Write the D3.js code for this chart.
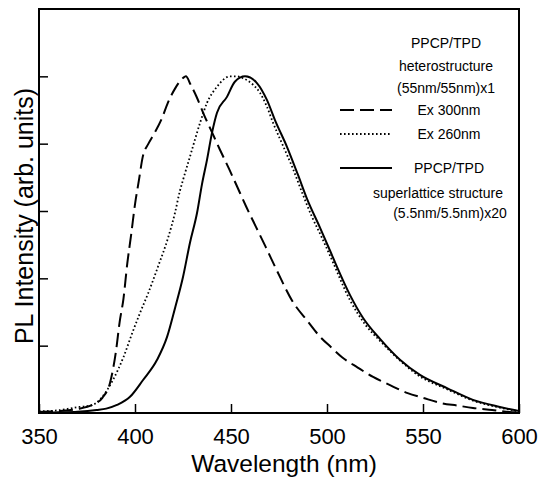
<!DOCTYPE html>
<html>
<head>
<meta charset="utf-8">
<script src="https://cdn.jsdelivr.net/npm/d3@7"></script>
<style>
  body { margin: 0; background: #fff; }
  text { font-family: "Liberation Sans", Arial, Helvetica, sans-serif; fill: #000; }
</style>
</head>
<body>
<script>
// Ex 300nm (dashed), heterostructure
const wlEx300 = [350, 360, 370, 378, 383, 387, 390, 392, 394, 396, 398, 400, 402, 404, 407, 410, 414, 417, 421, 425, 426.5, 429, 432, 436, 440, 444, 449, 453, 458, 463, 468, 474, 482, 490, 496, 502, 508, 516, 524, 532, 542, 550, 559, 568, 576, 586, 595, 600];
const intEx300 = [0.003, 0.006, 0.012, 0.025, 0.045, 0.09, 0.18, 0.27, 0.34, 0.445, 0.53, 0.62, 0.69, 0.76, 0.8, 0.83, 0.875, 0.92, 0.965, 0.995, 1.0, 0.975, 0.94, 0.885, 0.835, 0.785, 0.725, 0.675, 0.612, 0.553, 0.494, 0.422, 0.332, 0.272, 0.229, 0.196, 0.165, 0.135, 0.107, 0.085, 0.059, 0.045, 0.03, 0.022, 0.015, 0.009, 0.003, 0.002];

// Ex 260nm (dotted), heterostructure
const wlEx260 = [350, 360, 371, 377, 383, 388.5, 394, 398.4, 402.6, 406.8, 412, 417.2, 420.8, 423.4, 425, 428.6, 433.9, 437.5, 442.7, 449.5, 453, 456, 461.5, 465, 468.7, 471.9, 477, 482.3, 487, 492, 497, 502, 512, 520, 528, 538, 548, 562, 576, 590, 600];
const intEx260 = [0.005, 0.008, 0.018, 0.022, 0.048, 0.098, 0.166, 0.235, 0.297, 0.355, 0.435, 0.52, 0.594, 0.66, 0.692, 0.761, 0.862, 0.921, 0.969, 1.0, 1.0, 0.995, 0.975, 0.952, 0.91, 0.862, 0.795, 0.725, 0.655, 0.585, 0.525, 0.462, 0.335, 0.262, 0.212, 0.156, 0.11, 0.072, 0.037, 0.016, 0.005];

// superlattice (solid)
const wlSuper = [350, 360, 370, 380, 385, 390.6, 397.4, 404.2, 411.5, 416.7, 421, 425, 428.6, 432.3, 434.9, 437.5, 440.1, 442.7, 447.9, 452, 457.3, 463.5, 468.7, 472.9, 479.2, 484.9, 489.6, 496.4, 501.6, 505.2, 512, 518.8, 527.6, 538, 548.4, 562.5, 576, 590, 600];
const intSuper = [0.0, 0.002, 0.004, 0.009, 0.013, 0.024, 0.048, 0.098, 0.158, 0.226, 0.315, 0.404, 0.505, 0.594, 0.68, 0.752, 0.832, 0.892, 0.939, 0.984, 1.0, 0.98, 0.93, 0.87, 0.79, 0.707, 0.636, 0.55, 0.482, 0.434, 0.35, 0.282, 0.22, 0.158, 0.113, 0.074, 0.039, 0.018, 0.006];

const xTicks = [350, 400, 450, 500, 550, 600];
const yTicks = [0.2, 0.4, 0.6, 0.8, 1.0];

const legendHead = ["PPCP/TPD", "heterostructure", "(55nm/55nm)x1"];
const legendSuper = ["PPCP/TPD", "superlattice structure", "(5.5nm/5.5nm)x20"];

const W = 554, H = 477;
const m = { left: 39, right: 519, top: 9, bottom: 413 };

const svg = d3.select("body").append("svg")
    .attr("width", W)
    .attr("height", H);

const x = d3.scaleLinear().domain([350, 600]).range([m.left, m.right]);
const y = d3.scaleLinear().domain([0, 1.2]).range([m.bottom, m.top]);

// frame
svg.append("rect")
    .attr("x", m.left).attr("y", m.top)
    .attr("width", m.right - m.left).attr("height", m.bottom - m.top)
    .attr("fill", "none").attr("stroke", "#000").attr("stroke-width", 2);

// x axis, ticks pointing inward
svg.append("g")
    .attr("transform", `translate(0,${m.bottom})`)
    .call(d3.axisBottom(x).tickValues(xTicks).tickSize(-9).tickFormat(d3.format("d")))
    .call(g => g.select(".domain").remove())
    .call(g => g.selectAll("line").attr("stroke-width", 1.5))
    .call(g => g.selectAll("text").attr("font-size", 22).attr("dy", null).attr("y", 31)
        .attr("font-family", "'Liberation Sans', Arial, sans-serif"));

// y axis, no labels
svg.append("g")
    .attr("transform", `translate(${m.left},0)`)
    .call(d3.axisLeft(y).tickValues(yTicks).tickSize(-9).tickFormat(""))
    .call(g => g.select(".domain").remove())
    .call(g => g.selectAll("line").attr("stroke-width", 1.5));

svg.append("text")
    .attr("x", 284).attr("y", 472)
    .attr("text-anchor", "middle")
    .attr("font-size", 24.5)
    .text("Wavelength (nm)");

svg.append("text")
    .attr("transform", "translate(33,216) rotate(-90)")
    .attr("text-anchor", "middle")
    .attr("font-size", 25)
    .text("PL Intensity (arb. units)");

// curves
const line = d3.line()
    .x(d => x(d[0]))
    .y(d => y(d[1]))
    .curve(d3.curveMonotoneX);

const series = [
  { wl: wlEx260, v: intEx260, dash: "1.6,2.4", w: 1.8 },
  { wl: wlEx300, v: intEx300, dash: "14,6", w: 2 },
  { wl: wlSuper, v: intSuper, dash: null, w: 2 }
];

series.forEach(s => {
  svg.append("path")
      .datum(d3.zip(s.wl, s.v))
      .attr("d", line)
      .attr("fill", "none")
      .attr("stroke", "#000")
      .attr("stroke-width", s.w)
      .attr("stroke-dasharray", s.dash);
});

// legend
const headY = [48, 71, 93];
legendHead.forEach((t, i) => {
  svg.append("text")
      .attr("x", 446).attr("y", headY[i])
      .attr("text-anchor", "middle")
      .attr("font-size", 14)
      .text(t);
});

const keys = [
  { label: "Ex 300nm", y: 110, dash: "14,6", w: 2 },
  { label: "Ex 260nm", y: 134, dash: "1.6,2.4", w: 1.8 },
  { label: legendSuper[0], y: 168, dash: null, w: 2 }
];
keys.forEach(k => {
  svg.append("line")
      .attr("x1", 340).attr("x2", 392)
      .attr("y1", k.y).attr("y2", k.y)
      .attr("stroke", "#000")
      .attr("stroke-width", k.w)
      .attr("stroke-dasharray", k.dash);
  svg.append("text")
      .attr("x", 449).attr("y", k.y + 5)
      .attr("text-anchor", "middle")
      .attr("font-size", 14)
      .text(k.label);
});

const superY = [198, 218];
legendSuper.slice(1).forEach((t, i) => {
  svg.append("text")
      .attr("x", i === 0 ? 438 : 450).attr("y", superY[i])
      .attr("text-anchor", "middle")
      .attr("font-size", 14)
      .text(t);
});
</script>
</body>
</html>
